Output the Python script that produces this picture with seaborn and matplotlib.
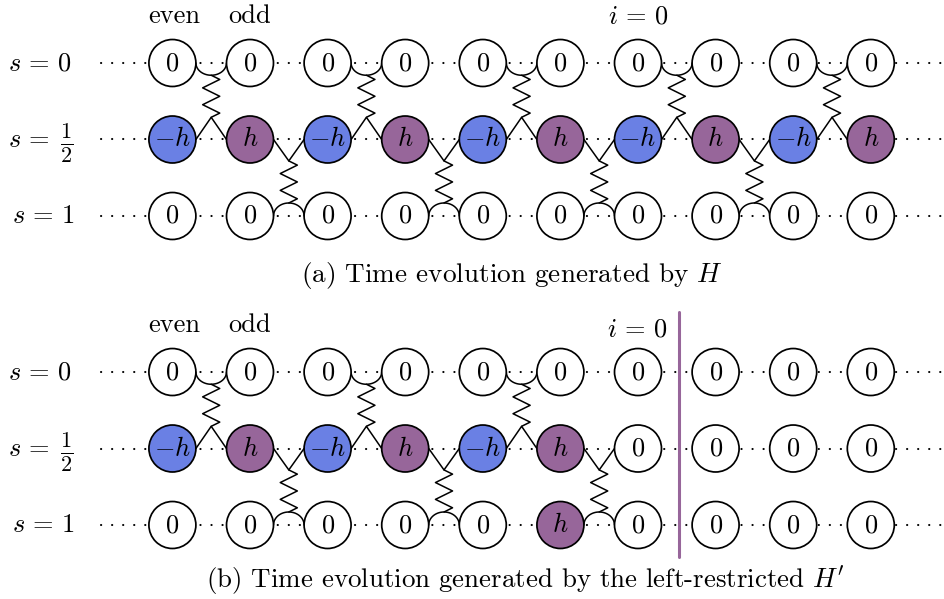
import numpy as np
import pandas as pd
import matplotlib
matplotlib.use("Agg")
import matplotlib.pyplot as plt
import seaborn as sns

# sites of the chain (i = 0 is the seventh site) and the three rows s
sites = [-6, -5, -4, -3, -2, -1, 0, 1, 2, 3]
levels = [0, 0.5, 1]
row_labels = [r"$s\,=\,0$", r"$s\,=$", r"$s\,=\,1$"]

# (a) time evolution generated by H
a_top = ["0"] * 10
a_mid = ["-h", "h"] * 5
a_bot = ["0"] * 10
a_up = [-6, -4, -2, 0, 2]      # even-odd couplings between s=0 and s=1/2
a_down = [-5, -3, -1, 1]       # odd-even couplings between s=1/2 and s=1

# (b) left-restricted H'
b_top = ["0"] * 10
b_mid = ["-h", "h", "-h", "h", "-h", "h", "0", "0", "0", "0"]
b_bot = ["0", "0", "0", "0", "0", "h", "0", "0", "0", "0"]
b_up = [-6, -4, -2]
b_down = [-5, -3, -1]
cut = 0.53

fills = {"0": "white", "-h": "#6A80E4", "h": "#97669A"}
names = {"0": r"$0$", "-h": r"$-h$", "h": r"$h$"}

sns.set_theme(style="white")
plt.rcParams["mathtext.fontset"] = "cm"
plt.rcParams["text.color"] = "black"
FS = 19
R = 0.303  # circle radius in site units


def spring(ax, x, y0, y1, amp=0.11, n=5):
    xs = [x]
    ys = [y0]
    for k in range(n):
        xs.append(x + amp * (1 if k % 2 == 0 else -1))
        ys.append(y0 + (k + 0.5) / n * (y1 - y0))
    xs.append(x)
    ys.append(y1)
    ax.plot(xs, ys, color="black", lw=1.1, zorder=2)


def arc(ax, i, s, depth):
    t = np.linspace(0, np.pi, 40)
    mid = i + 0.5
    ax.plot(mid + (0.5 - R) * np.cos(t), s + depth * np.sin(t), color="black", lw=1.1, zorder=2)


def panel(ax, rows, ups, downs, ylim):
    df = pd.DataFrame({"i": sites * 3,
                       "s": np.repeat(levels, len(sites)),
                       "val": rows[0] + rows[1] + rows[2]})
    for s in levels:
        ax.plot([-6.92, 3.96], [s, s], color="black", lw=1.5,
                ls=(0, (0.1, 5.2)), dash_capstyle="round", zorder=1)
    sns.scatterplot(data=df, x="i", y="s", hue="val", palette=fills, s=1144,
                    edgecolor="black", linewidth=1.25, legend=False, zorder=3, ax=ax)
    for r in df.itertuples():
        ax.text(r.i, r.s, names[r.val], ha="center", va="center", fontsize=FS, zorder=4)

    # couplings s=0 <-> s=1/2
    for i in ups:
        arc(ax, i, 0, 0.08)
        spring(ax, i + 0.5, 0.08, 0.355)
        ax.plot([i + R, i + 0.5, i + 1 - R], [0.5, 0.355, 0.5], color="black", lw=1.1, zorder=2)
    # couplings s=1/2 <-> s=1
    for i in downs:
        ax.plot([i + R, i + 0.5, i + 1 - R], [0.5, 0.64, 0.5], color="black", lw=1.1, zorder=2)
        spring(ax, i + 0.5, 0.64, 0.915)
        arc(ax, i, 1, -0.085)

    # row labels
    ax.text(-7.705, levels[0] + 0.046, row_labels[0], ha="center", va="baseline", fontsize=FS)
    ax.text(-7.575, levels[1] + 0.052, row_labels[1], ha="right", va="baseline", fontsize=FS)
    ax.text(-7.37, levels[1] + 0.02, r"$\frac{1}{2}$", ha="center", va="center", fontsize=FS * 1.2)
    ax.text(-7.665, levels[2] + 0.046, row_labels[2], ha="center", va="baseline", fontsize=FS)

    ax.text(-5.98, -0.261, "even", family="cmr10", ha="center", va="baseline", fontsize=FS)
    ax.text(-5.0, -0.261, "odd", family="cmr10", ha="center", va="baseline", fontsize=FS)

    ax.set_xlim(-8.2216, 3.9433)
    ax.set_ylim(*ylim)
    ax.axis("off")


fig = plt.figure(figsize=(9.44, 5.99), dpi=100)
ax_a = fig.add_axes([0, 0.5, 1, 0.5])
ax_b = fig.add_axes([0, 0, 1, 0.5])

panel(ax_a, [a_top, a_mid, a_bot], a_up, a_down, (1.5458, -0.4118))
ax_a.text(0, -0.26, r"$i\,=\,0$", ha="center", va="baseline", fontsize=FS)
ax_a.text(-1.62, 1.431, r"(a) Time evolution generated by $H$", family="cmr10",
          ha="center", va="baseline", fontsize=19.6)

panel(ax_b, [b_top, b_mid, b_bot], b_up, b_down, (1.4837, -0.474))
ax_b.text(-0.01, -0.235, r"$i\,=\,0$", ha="center", va="baseline", fontsize=FS)
ax_b.text(-1.45, 1.41, r"(b) Time evolution generated by the left-restricted $H'$",
          family="cmr10", ha="center", va="baseline", fontsize=19.4)
ax_b.plot([cut, cut], [-0.392, 1.209], color=fills["h"], lw=2.2, zorder=5)

fig.savefig("out.png", dpi=100)
